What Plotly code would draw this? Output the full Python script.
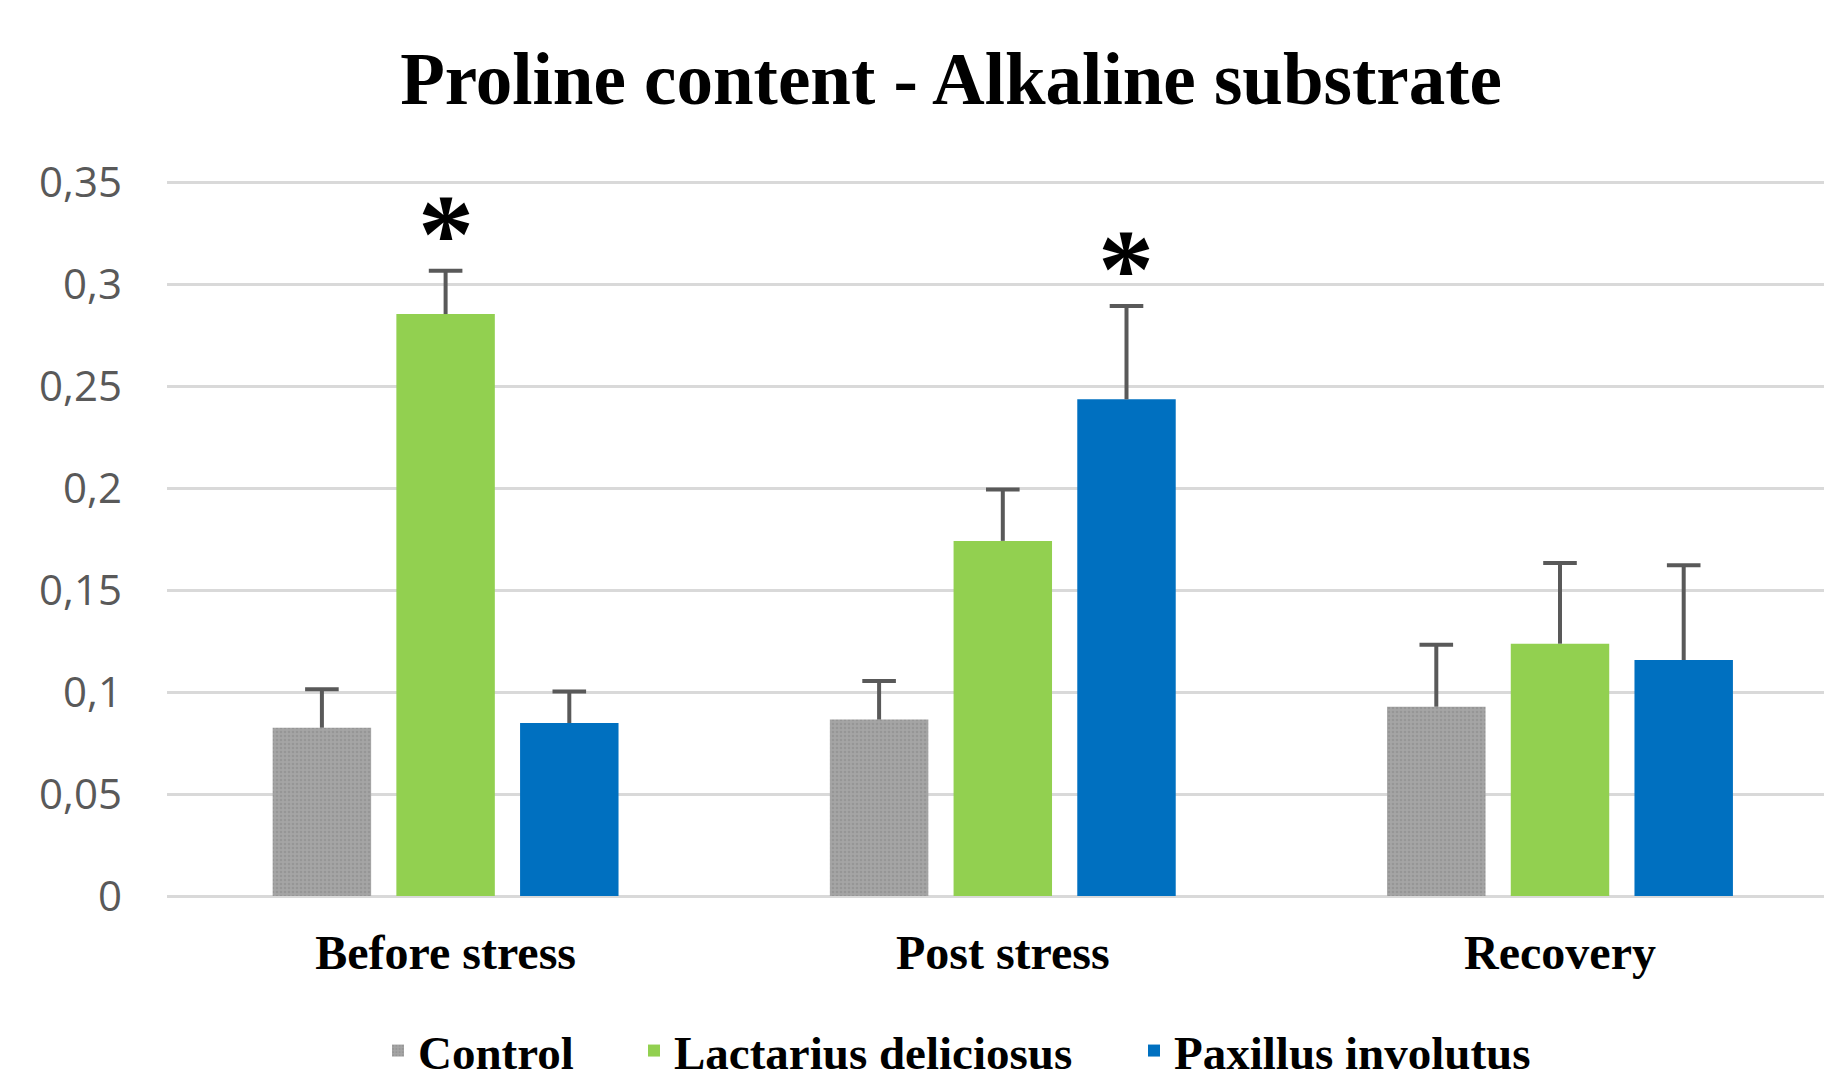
import plotly.graph_objects as go

categories = ["Before stress", "Post stress", "Recovery"]
series_names = ["Control", "Lactarius deliciosus", "Paxillus involutus"]
control_vals = [0.0825, 0.0865, 0.0928]
control_err = [0.0189, 0.0189, 0.0304]
lactarius_vals = [0.2853, 0.1741, 0.1237]
lactarius_err = [0.0212, 0.0252, 0.0396]
paxillus_vals = [0.0848, 0.2435, 0.1157]
paxillus_err = [0.0154, 0.0458, 0.0464]
colors = ["#A5A5A5", "#92D050", "#0070C0"]
y_tickvals = [0, 0.05, 0.1, 0.15, 0.2, 0.25, 0.3, 0.35]
y_ticktext = ["0", "0,05", "0,1", "0,15", "0,2", "0,25", "0,3", "0,35"]
# significance marks: (series index, category index)
sig_marks = [(1, 0), (2, 1)]

values = [control_vals, lactarius_vals, paxillus_vals]
errors = [control_err, lactarius_err, paxillus_err]

# page has an 8px body margin -> figure drawn 8px in from the window corner
OFF = 8
W, H = 1832 - OFF, 1080 - OFF
ML, MR, MT = 167 - OFF, 0, 170
MB = H - (896 - OFF)
PW = W - ML - MR
PH = H - MT - MB
BARGAP, GROUPGAP = 0.334, 0.204
CAT_PX = 557.2                       # width of one category band in pixels
x_range = [-0.5, -0.5 + PW / CAT_PX]  # plot area is cut by the right edge
legend_text_left = [419, 675, 1175]   # window x where each legend label starts
legend_center_y = 1043                # figure y of legend centre
ERR_COLOR = "#595959"

fig = go.Figure()
for i, (name, v, e, c) in enumerate(zip(series_names, values, errors, colors)):
    marker = dict(color=c, line=dict(width=0))
    if i == 0:
        marker["pattern"] = dict(shape=".", size=4, solidity=0.35,
                                 fgcolor="#969696", bgcolor=c, fillmode="replace")
    fig.add_trace(go.Bar(
        x=categories, y=v, name=name, marker=marker, offsetgroup=str(i),
        legend="legend" if i == 0 else f"legend{i + 1}",
    ))

# upper-only error bars: whisker from bar top up to a cap (no cap on the bar)
for i, (name, v, e) in enumerate(zip(series_names, values, errors)):
    tops = [a + b for a, b in zip(v, e)]
    fig.add_trace(go.Scatter(
        x=categories, y=tops, mode="markers", offsetgroup=str(i),
        showlegend=False, hoverinfo="skip",
        marker=dict(symbol="line-ew", size=24, color=ERR_COLOR,
                    line=dict(width=4, color=ERR_COLOR)),
        error_y=dict(type="data", array=[0] * len(e), arrayminus=e, symmetric=False,
                     color=ERR_COLOR, thickness=4, width=0),
    ))

# asterisks placed relative to bar geometry
slot = CAT_PX * (1 - BARGAP) / len(series_names)
for si, ci in sig_marks:
    top = values[si][ci] + errors[si][ci]
    fig.add_annotation(
        x=categories[ci], y=top, xref="x", yref="y",
        text="<b>*</b>", showarrow=False,
        xshift=(si - 1) * slot, yshift=-27, yanchor="bottom",
        font=dict(family="Liberation Serif", size=112, color="black"),
    )

legend_font = dict(family="Liberation Serif", size=47, color="black", weight="bold")
legend_common = dict(orientation="h", xanchor="left", yanchor="middle",
                     y=-(legend_center_y - (H - MB)) / PH,
                     font=legend_font, itemclick=False, itemdoubleclick=False,
                     bgcolor="rgba(0,0,0,0)", borderwidth=0)
layout_legends = {}
for i, tx in enumerate(legend_text_left):
    key = "legend" if i == 0 else f"legend{i + 1}"
    layout_legends[key] = dict(legend_common, x=(tx - OFF - 41 - ML) / PW)

fig.update_layout(
    width=W, height=H,
    margin=dict(l=ML, r=MR, t=MT, b=MB, pad=0, autoexpand=False),
    paper_bgcolor="white", plot_bgcolor="white",
    barmode="group", bargap=BARGAP, bargroupgap=GROUPGAP,
    scattermode="group", scattergap=BARGAP,
    title=dict(text="Proline content - Alkaline substrate",
               x=(951 - OFF) / W, xanchor="center", y=1 - 70 / H, yanchor="middle",
               font=dict(family="Liberation Serif", size=73, color="black", weight="bold")),
    showlegend=True,
    **layout_legends,
)
fig.update_xaxes(
    automargin=False, range=x_range, showgrid=False, showline=False, ticks="",
    ticklabelstandoff=24,
    tickfont=dict(family="Liberation Serif", size=48, color="black", weight="bold"),
)
fig.update_yaxes(
    automargin=False, range=[0, 0.352], tickvals=y_tickvals, ticktext=y_ticktext,
    showgrid=True, gridcolor="#D9D9D9", gridwidth=3,
    zeroline=True, zerolinecolor="#D9D9D9", zerolinewidth=3,
    showline=False, ticks="", ticklabelstandoff=44,
    tickfont=dict(family="Open Sans", size=42, color="#595959"),
)

fig.write_html("out.html")
